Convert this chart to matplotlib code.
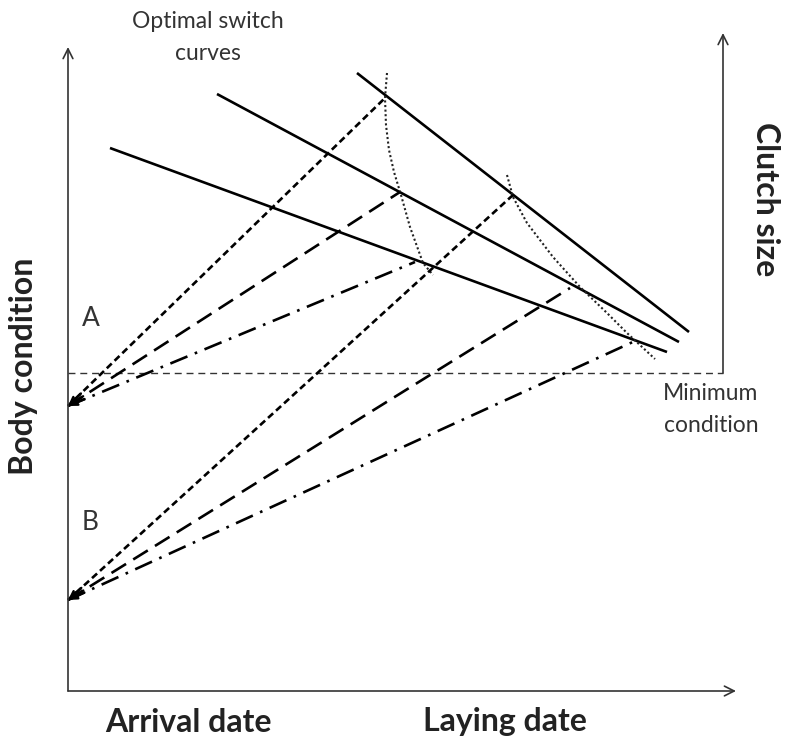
import numpy as np
import matplotlib.pyplot as plt

# schematic drawn in pixel space (x right, y down)
W, H = 786, 741

# axes frame
left_x, bottom_y, left_top = 68, 691, 47
right_x, right_top = 723, 33
xaxis_end = 736
min_cond_y = 373

# optimal switch curves (solid lines), start / end points
switch_x0 = [110, 217, 357]
switch_y0 = [148, 94, 73]
switch_x1 = [667, 679, 689]
switch_y1 = [352, 342, 332]

# dotted lines joining the switch points
dot1_x = [387, 385, 386, 389, 394, 401, 410, 423, 433]
dot1_y = [73, 98, 125, 150, 172, 195, 227, 263, 275]
dot2_x = [507, 513, 527, 553, 580, 607, 627, 655]
dot2_y = [175, 197, 223, 257, 287, 313, 333, 359]

# condition trajectories starting from A and B
start_A = (68, 406)
start_B = (68, 600)
end_A = [(385, 98), (400, 192), (415, 262)]
end_B = [(513, 195), (570, 288), (635, 341)]
traj_dashes = [(2.6, 1.5), (6.5, 3.2), (7, 3, 1, 3)]

plt.rcParams['font.family'] = ['Lato', 'DejaVu Sans']

fig = plt.figure(figsize=(W / 100, H / 100), dpi=100)
ax = fig.add_axes([0, 0, 1, 1])
ax.set_xlim(0, W)
ax.set_ylim(H, 0)
ax.axis('off')

axcol = '#333333'
arr = dict(arrowstyle='->,head_length=0.7,head_width=0.35', lw=1.2, color=axcol,
           shrinkA=0, shrinkB=0)
ax.annotate('', xy=(left_x, left_top), xytext=(left_x, bottom_y), arrowprops=arr)
ax.annotate('', xy=(xaxis_end, bottom_y), xytext=(left_x, bottom_y), arrowprops=arr)
ax.annotate('', xy=(right_x, right_top), xytext=(right_x, min_cond_y), arrowprops=arr)
ax.plot([left_x, right_x], [min_cond_y, min_cond_y], color=axcol, lw=1.0,
        dashes=(5, 3.5))

# switch curves
for x0, y0, x1, y1 in zip(switch_x0, switch_y0, switch_x1, switch_y1):
    ax.plot([x0, x1], [y0, y1], color='black', lw=1.9, solid_capstyle='butt')

ax.plot(dot1_x, dot1_y, color='#222222', lw=1.5, dashes=(1, 1.2))
ax.plot(dot2_x, dot2_y, color='#222222', lw=1.5, dashes=(1, 1.2))

# trajectories with small arrow heads pointing back at the start
for start, ends in [(start_A, end_A), (start_B, end_B)]:
    for (ex, ey), d in zip(ends, traj_dashes):
        ax.plot([start[0], ex], [start[1], ey], color='black', lw=1.9, dashes=d)
        v = np.array([ex - start[0], ey - start[1]], dtype=float)
        v = v / np.hypot(*v)
        ax.annotate('', xy=start, xytext=(start[0] + 18 * v[0], start[1] + 18 * v[1]),
                    arrowprops=dict(arrowstyle='->,head_length=0.5,head_width=0.2',
                                    lw=1.7, color='black', shrinkA=0, shrinkB=0))

tcol = '#222222'
lcol = '#333333'
ax.text(208, 22, 'Optimal switch', fontsize=16.5, color=lcol, ha='center', va='center')
ax.text(208, 53, 'curves', fontsize=16.5, color=lcol, ha='center', va='center')
ax.text(24, 366, 'Body condition', fontsize=23, fontweight='bold', rotation=90,
        ha='center', va='center', color=tcol)
ax.text(766, 199, 'Clutch size', fontsize=23, fontweight='bold', rotation=-90,
        ha='center', va='center', color=tcol)
ax.text(91, 318, 'A', fontsize=19, color=lcol, ha='center', va='center')
ax.text(90, 522, 'B', fontsize=19, color=lcol, ha='center', va='center')
ax.text(711, 394, 'Minimum', fontsize=16.5, color=lcol, ha='center', va='center')
ax.text(711, 425, 'condition', fontsize=16.5, color=lcol, ha='center', va='center')
ax.text(188, 722, 'Arrival date', fontsize=23, fontweight='bold', ha='center',
        va='center', color=tcol)
ax.text(505, 722, 'Laying date', fontsize=23, fontweight='bold', ha='center',
        va='center', color=tcol)

fig.savefig('out.png', dpi=100)
